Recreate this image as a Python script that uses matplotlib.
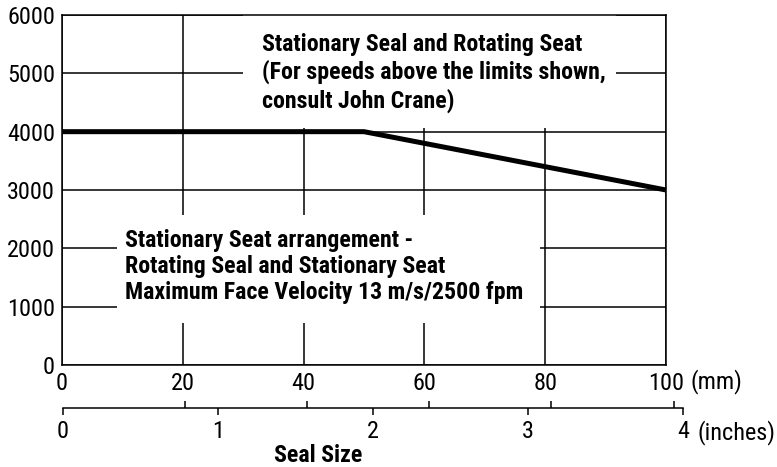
import matplotlib
matplotlib.use("Agg")
import matplotlib.pyplot as plt
from matplotlib.patches import Rectangle

# seal size (mm) vs speed limit (fpm)
seal_mm = [0, 50, 100]
speed_fpm = [4000, 4000, 3000]

mm_ticks = [0, 20, 40, 60, 80, 100]
inch_ticks = [0, 1, 2, 3, 4]
speed_ticks = [0, 1000, 2000, 3000, 4000, 5000, 6000]

upper_note = ("Stationary Seal and Rotating Seat\n"
              "(For speeds above the limits shown,\n"
              "consult John Crane)")
lower_note = ("Stationary Seat arrangement -\n"
              "Rotating Seal and Stationary Seat\n"
              "Maximum Face Velocity 13 m/s/2500 fpm")

plt.rcParams['font.family'] = ['Roboto Condensed', 'DejaVu Sans']

fig = plt.figure(figsize=(7.77, 4.67), dpi=100)
ax = fig.add_axes([62 / 777, 102 / 467, 604 / 777, 350 / 467])

ax.set_xlim(0, 100)
ax.set_ylim(0, 6000)
ax.set_xticks(mm_ticks)
ax.set_yticks(speed_ticks)
ax.grid(True, color='black', linewidth=1.1)
ax.tick_params(length=0, labelsize=17.5, pad=5)
for s in ax.spines.values():
    s.set_linewidth(1.1)

# white boxes hiding the grid behind the notes
ax.add_patch(Rectangle((30, 4070), 61.7, 1930, facecolor='white', edgecolor='none', zorder=2))
ax.add_patch(Rectangle((9.05, 720), 70.1, 1850, facecolor='white', edgecolor='none', zorder=2))

ax.plot(seal_mm, speed_fpm, color='black', linewidth=3.6, solid_capstyle='butt', zorder=3, clip_on=False)

ax.text(33.1, 5006, upper_note, fontsize=17.2, fontweight='bold', va='center', ha='left',
        linespacing=1.2, zorder=4)
ax.text(10.4, 1690, lower_note, fontsize=17.2, fontweight='bold', va='center', ha='left',
        linespacing=1.15, zorder=4)

ax.annotate("(mm)", xy=(100, 0), xycoords='data', xytext=(17.3, -12.2),
            textcoords='offset points', fontsize=17.5, va='center', ha='left')

# inch scale below
ax2 = fig.add_axes([62.5 / 777, 59 / 467, 620.8 / 777, 0.0001])
ax2.set_xlim(0, 4)
for side in ['top', 'left', 'right']:
    ax2.spines[side].set_visible(False)
ax2.spines['bottom'].set_linewidth(1.1)
ax2.set_yticks([])
ax2.set_xticks(inch_ticks)
ax2.set_xticks([m / 25.4 for m in mm_ticks[1:]], minor=True)
ax2.tick_params(which='major', direction='out', length=5, width=1.1, labelsize=17.5, pad=4)
ax2.tick_params(which='minor', direction='in', length=5, width=1.1)
ax2.patch.set_visible(False)
ax2.annotate("(inches)", xy=(4, 0), xycoords='data', xytext=(9.9, -18),
             textcoords='offset points', fontsize=17.5, va='center', ha='left')

fig.text(318 / 777, 12 / 467, "Seal Size", fontsize=17.2, fontweight='bold', ha='center', va='center')

fig.savefig("out.png", dpi=100)
